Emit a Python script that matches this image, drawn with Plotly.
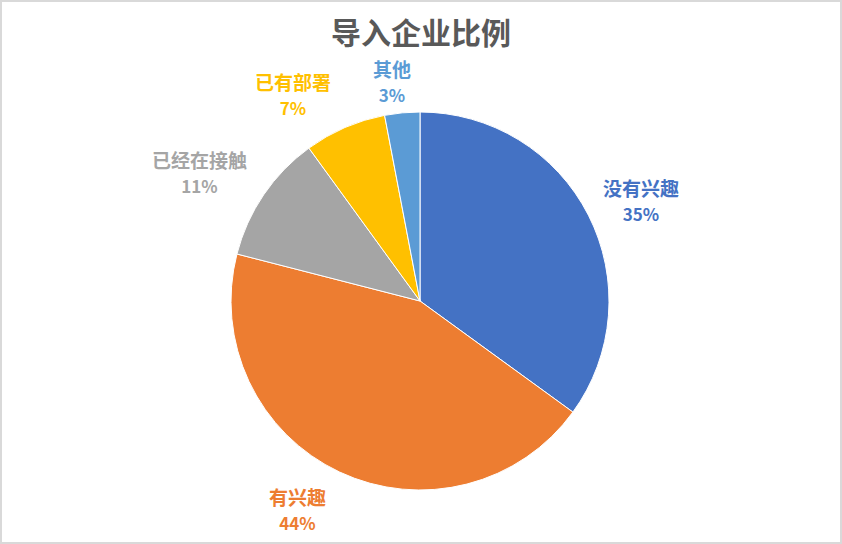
import plotly.graph_objects as go

# --- DATA ---
labels = ["没有兴趣", "有兴趣", "已经在接触", "已有部署", "其他"]
shares = [35, 44, 11, 7, 3]
colors = ["#4472C4", "#ED7D31", "#A5A5A5", "#FFC000", "#5B9BD5"]

# label block centres in pixels (layout only)
label_pos = [(641, 200), (297, 509), (199, 172), (293, 94), (392, 81)]

W, H = 842, 544
R = 189
CX, CY = 420, 301

fig = go.Figure(go.Pie(
    labels=labels,
    values=shares,
    sort=False,
    direction="clockwise",
    rotation=0,
    marker=dict(colors=colors, line=dict(color="white", width=1)),
    textinfo="none",
    hoverinfo="label+percent",
    showlegend=False,
    domain=dict(x=[(CX - R) / W, (CX + R) / W],
                y=[(H - CY - R) / H, (H - CY + R) / H]),
))

total = sum(shares)
for lab, val, col, (px, py) in zip(labels, shares, colors, label_pos):
    pct = round(100 * val / total)
    fig.add_annotation(
        text=f"<b>{lab}</b><br><b><span style='font-size:17px'>{pct}%</span></b>",
        x=px / W, y=1 - py / H, xref="paper", yref="paper",
        xanchor="center", yanchor="middle", showarrow=False,
        font=dict(family="Noto Sans CJK SC", size=19, color=col),
    )

fig.update_layout(
    width=W, height=H,
    margin=dict(l=0, r=0, t=0, b=0),
    paper_bgcolor="white",
    title=dict(text="<b>导入企业比例</b>", x=0.5, xanchor="center",
               y=1 - 33 / H, yanchor="middle",
               font=dict(family="Noto Sans CJK SC", size=30, color="#595959")),
    shapes=[dict(type="rect", xref="paper", yref="paper", x0=0, x1=1, y0=0, y1=1,
                 line=dict(color="#D9D9D9", width=4))],
)

fig.write_html("out.html", config={"displayModeBar": False},
               post_script="document.body.style.margin='0';")
